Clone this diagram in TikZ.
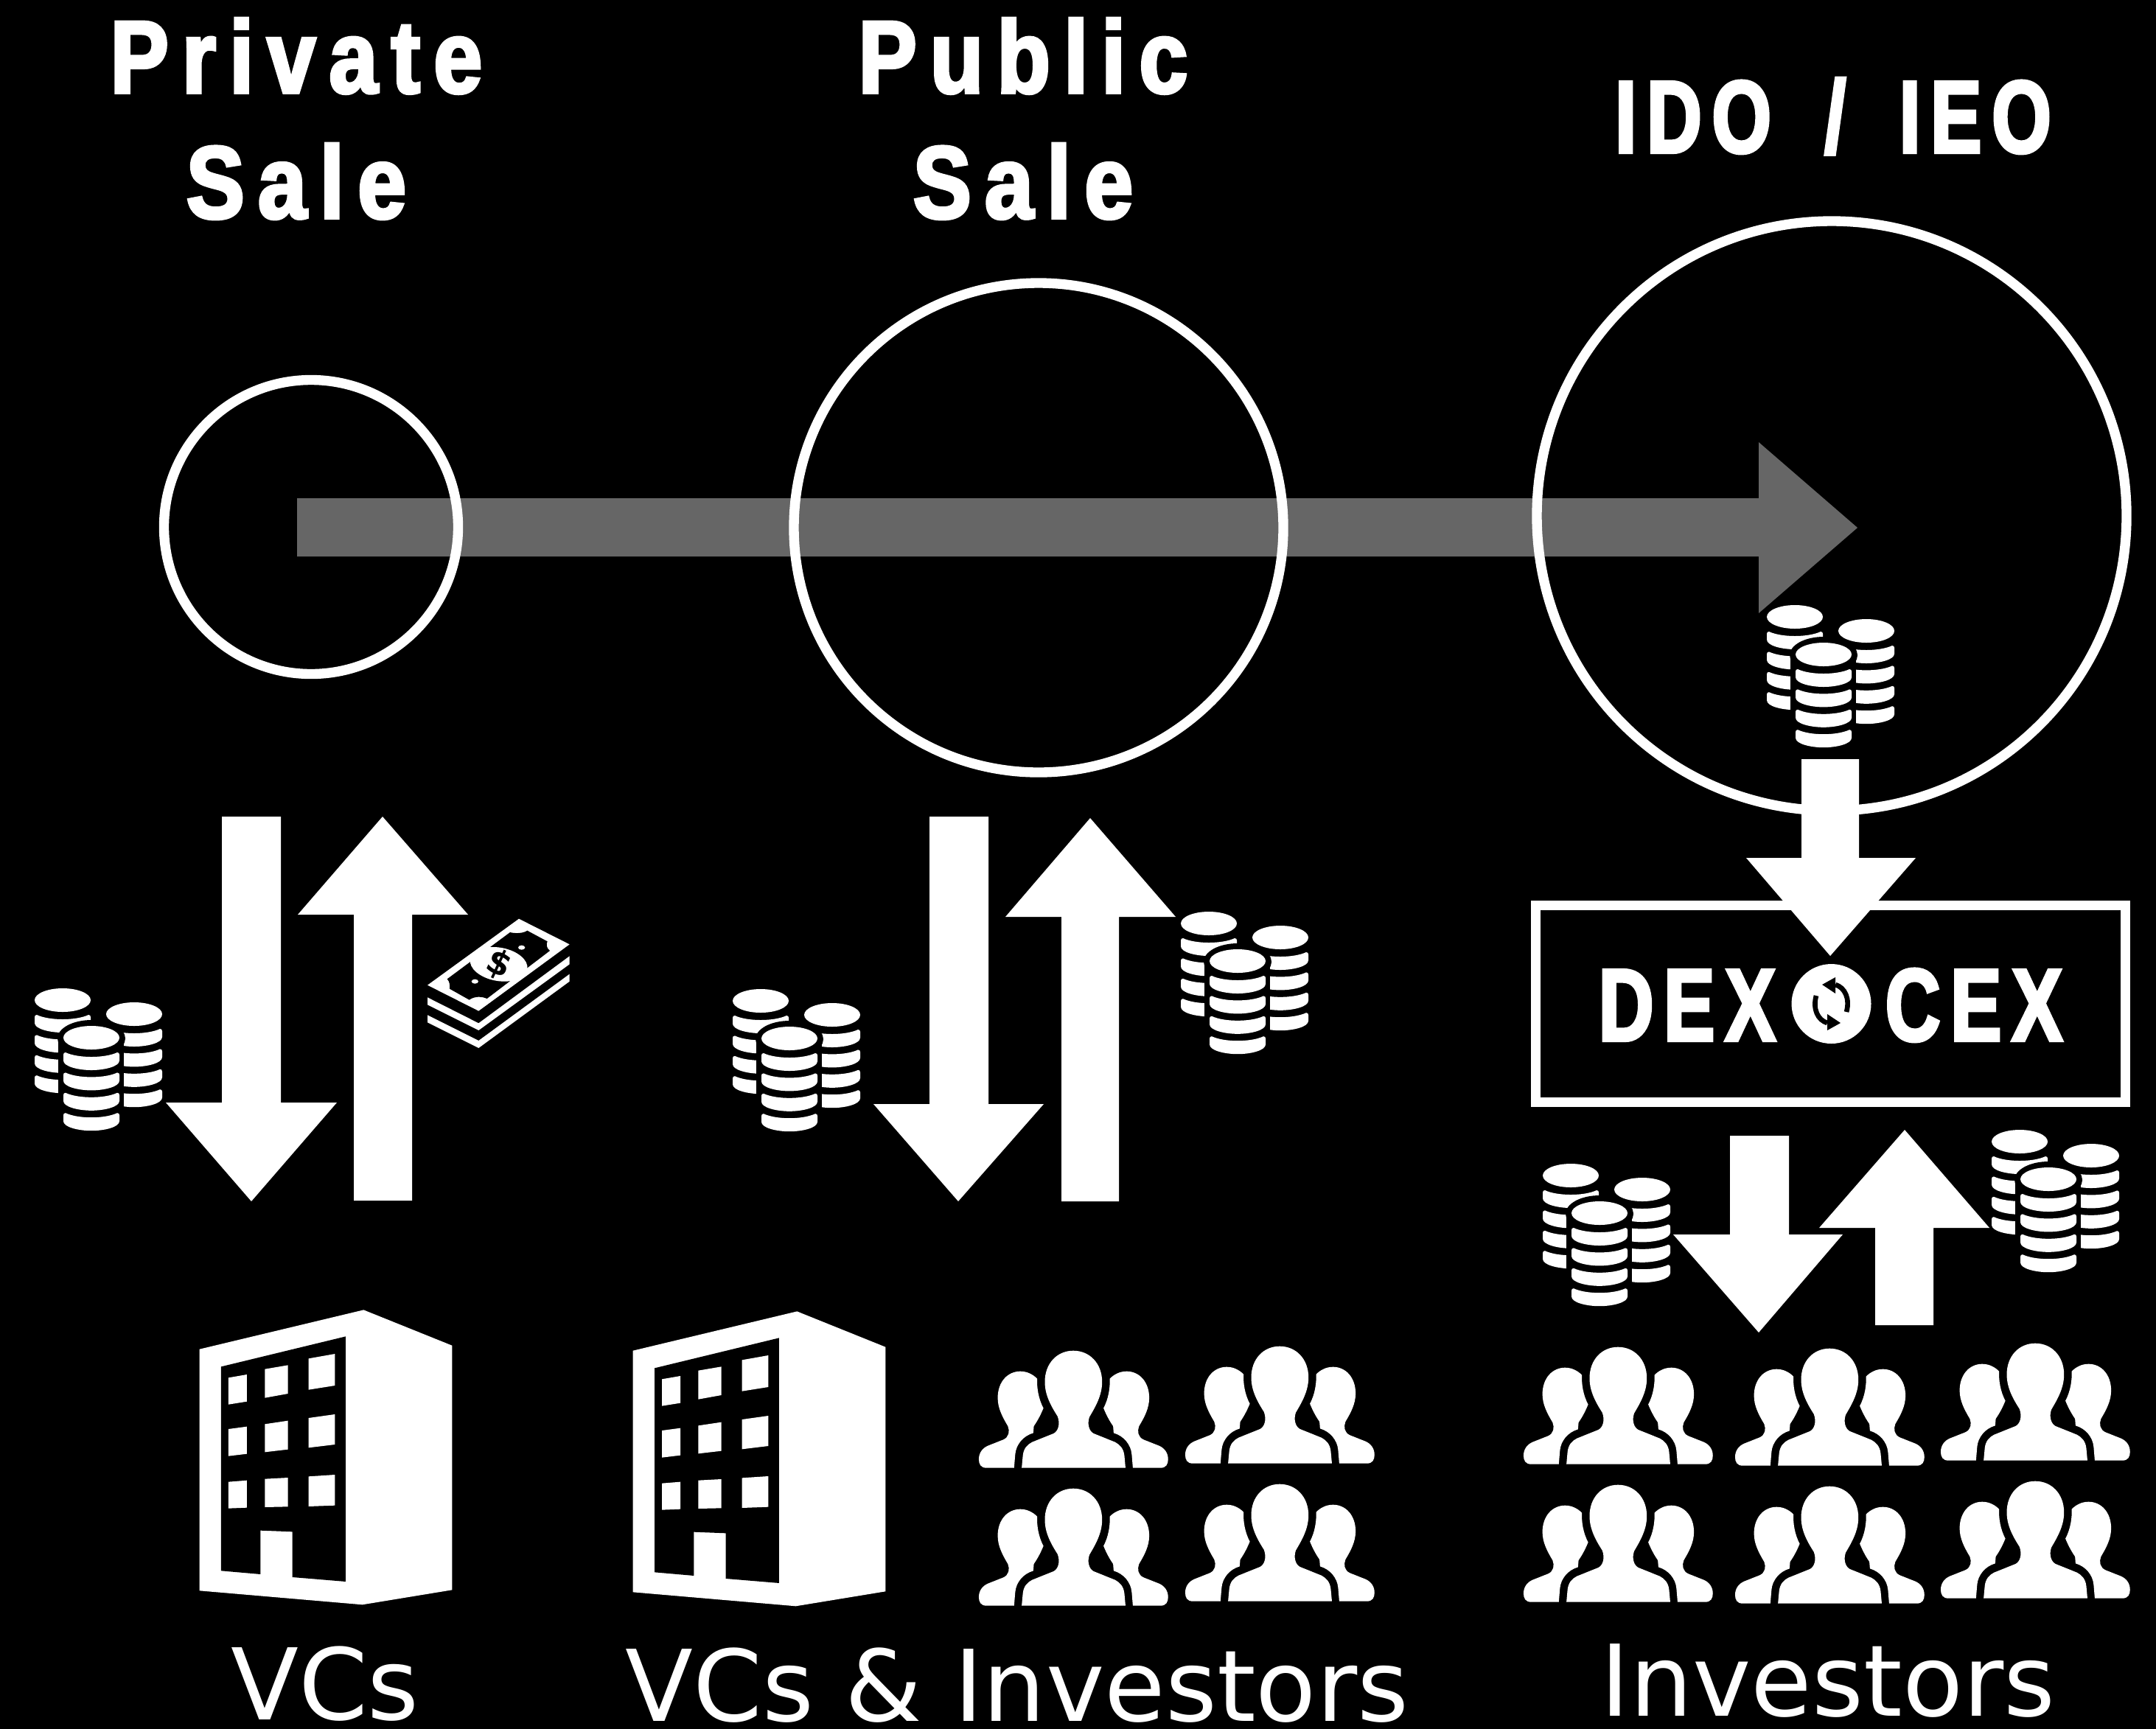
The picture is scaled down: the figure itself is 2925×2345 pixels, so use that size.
\documentclass[tikz,border=0pt]{standalone}
\usepackage{fontspec}
\setsansfont{DejaVu Sans}
\newfontfamily\titlefont[FakeStretch=0.85,LetterSpace=13,FakeBold=3]{Liberation Sans}
\newfontfamily\capsfont[FakeStretch=0.74,LetterSpace=10,FakeBold=3]{Liberation Sans}
\usepackage{tikz}

\definecolor{flowgray}{HTML}{666666}

\newcommand{\sideperson}{
    \fill[white] (198,575) -- (100,575) .. controls (80,575) and (73,560) .. (73,540) .. controls (73,515) and (85,495) .. (105,485)
      -- (160,460) .. controls (180,450) and (183,425) .. (176,405) .. controls (155,365) and (140,330) .. (140,290)
      .. controls (140,225) and (175,182) .. (220,182) .. controls (245,182) and (265,195) .. (280,212)
      .. controls (278,250) and (285,295) .. (302,332) .. controls (290,365) and (280,385) .. (268,405) -- (266,433)
      .. controls (230,445) and (205,480) .. (202,520) -- cycle;
}

\tikzset{
  salelabel/.style={white,inner sep=0pt,align=center,font=\titlefont\bfseries\fontsize{39.7}{48.4}\selectfont},
  capslabel/.style={white,inner sep=0pt,anchor=base,font=\capsfont\bfseries\fontsize{39.7}{48.4}\selectfont},
  investorlabel/.style={white,inner sep=0pt,anchor=base,font=\sffamily\fontsize{38.2}{45}\selectfont},
  ring/.style={draw=white,line width=3.8pt},
  blockarrow/.style={fill=white},
  coinslice/.pic={
    \fill[white] (0,3) .. controls (0,1) and (1,0) .. (3,0) .. controls (20,8) and (56,8) .. (73,0)
      .. controls (75,0) and (76,1) .. (76,3) -- (76,11) .. controls (76,19) and (56,24) .. (38,24)
      .. controls (20,24) and (0,19) .. (0,11) -- cycle;
  },
  coincolumn/.pic={
    \fill[white] (38,16) ellipse [x radius=38,y radius=16];
    \foreach \i in {0,...,3}
      \pic at (0,36+27.4*\i) {coinslice};
  },
  coins/.pic={
    \pic at (0,0) {coincolumn};
    \pic at (97,19) {coincolumn};
    \fill[black] (77,68) ellipse [x radius=46,y radius=25];
    \fill[black] (31.5,68) rectangle (121,200);
    \pic at (39,51) {coincolumn};
  },
  building/.pic={
    \fill[white] (152,272) -- (820,112) -- (1180,257) -- (1180,1252) -- (815,1312) -- (152,1255) -- cycle;
    \fill[black] (240,343) -- (747,220) -- (747,1218) -- (530,1200) -- (530,1015) -- (400,1010) -- (400,1188) -- (240,1174) -- cycle;
    \fill[white] (270,388) -- (345,375) -- (345,485) -- (270,497) -- cycle;
    \fill[white] (418,353) -- (512,337) -- (512,453) -- (418,470) -- cycle;
    \fill[white] (596,310) -- (703,291) -- (703,420) -- (596,437) -- cycle;
    \fill[white] (270,597) -- (345,587) -- (345,698) -- (270,707) -- cycle;
    \fill[white] (418,577) -- (512,563) -- (512,680) -- (418,691) -- cycle;
    \fill[white] (596,552) -- (703,537) -- (703,660) -- (596,673) -- cycle;
    \fill[white] (270,812) -- (345,806) -- (345,917) -- (270,920) -- cycle;
    \fill[white] (418,800) -- (512,795) -- (512,913) -- (418,915) -- cycle;
    \fill[white] (596,790) -- (703,783) -- (703,908) -- (596,912) -- cycle;
  },
  people/.pic={
    \fill[white] (225,575) -- (229,525) .. controls (232,495) and (245,480) .. (262,470) -- (338,435)
      .. controls (355,425) and (362,395) .. (352,365) .. controls (330,325) and (307,280) .. (307,225)
      .. controls (307,150) and (350,98) .. (408,98) .. controls (466,98) and (510,150) .. (510,225)
      .. controls (510,280) and (487,325) .. (465,368) .. controls (457,395) and (463,425) .. (480,435)
      -- (556,470) .. controls (572,480) and (586,495) .. (589,525) -- (593,575) -- cycle;
    \sideperson
    \begin{scope}[shift={(817,0)},xscale=-1]
      \sideperson
    \end{scope}
  },
  money/.pic={
    \fill[white] (402,20) -- (608,124) -- (238,395) -- (30,290) -- cycle;
    \fill[white] (30,340) -- (238,445) -- (608,172) -- (608,205) -- (238,474) -- (30,370) -- cycle;
    \fill[white] (30,412) -- (238,516) -- (608,245) -- (608,275) -- (238,546) -- (30,442) -- cycle;
    \fill[black] (366,75) .. controls (385,80) and (420,80) .. (436,68) -- (518,112) .. controls (512,125) and (515,140) .. (528,150)
      -- (272,345) .. controls (250,335) and (220,335) .. (200,350) -- (120,305) .. controls (122,292) and (120,275) .. (110,265) -- cycle;
    \fill[white] (320,205) ellipse [x radius=118,y radius=68,rotate=-10];
    \fill[white] (413,137) ellipse [x radius=14,y radius=9];
    \fill[white] (223,275) ellipse [x radius=14,y radius=9];
    \node[black,rotate=-25,inner sep=0pt,font=\sffamily\bfseries\fontsize{13}{13}\selectfont] (dollar) at (320,207) {\$};
  },
  reload/.pic={
    \draw[black,line width=1.9pt] (20.5,11) .. controls (25.5,-7) and (18.5,-22) .. (5.5,-26);
    \fill[black] (-12.5,-26) -- (5.5,-36) -- (5.5,-14) -- cycle;
  }
}

\begin{document}
\begin{tikzpicture}[x=.01cm,y=-.01cm]
    \useasboundingbox (0,0) rectangle (2925,2345);
    \fill[black] (-20,-20) rectangle (2945,2365);

    % flow from sale to sale
    \fill[flowgray] (403,676) -- (2386,676) -- (2386,600) -- (2520,716) -- (2386,832) -- (2386,755) -- (403,755) -- cycle;
    \draw[ring] (422,715) circle [radius=199.5];
    \draw[ring] (1409,716) circle [radius=332];
    \draw[ring] (2485,700) circle [radius=400];

    \node[salelabel] (private) at (402,161) {Private\\Sale};
    \node[salelabel] (public) at (1388,161) {Public\\Sale};
    \node[capslabel] (ido) at (2487,207) {IDO\hspace{8.5pt} /\hspace{8.5pt} IEO};

    % private sale
    \fill[blockarrow] (301,1108) -- (381,1108) -- (381,1496) -- (457,1496) -- (341,1630) -- (225,1496) -- (301,1496) -- cycle;
    \fill[blockarrow] (480,1629) -- (559,1629) -- (559,1241) -- (635,1241) -- (519,1108) -- (404,1241) -- (480,1241) -- cycle;
    \pic at (47,1341) {coins};
    \pic[scale=.3333] at (570,1240) {money};

    % public sale
    \fill[blockarrow] (1261,1108) -- (1341,1108) -- (1341,1498) -- (1416,1498) -- (1300,1630) -- (1185,1498) -- (1261,1498) -- cycle;
    \fill[blockarrow] (1440,1630) -- (1518,1630) -- (1518,1244) -- (1595,1244) -- (1479,1110) -- (1364,1244) -- (1440,1244) -- cycle;
    \pic at (994,1342) {coins};
    \pic at (1602,1237) {coins};

    % ido and exchange
    \pic at (2397,821) {coins};
    \draw[draw=white,line width=3.7pt] (2083.5,1228.5) rectangle (2883.5,1495);
    \fill[blockarrow] (2444,1030) -- (2522,1030) -- (2522,1164) -- (2599,1164) -- (2483,1297) -- (2369,1164) -- (2444,1164) -- cycle;
    \node[capslabel] (dex) at (2289,1412) {DEX};
    \node[capslabel] (cex) at (2678,1412) {CEX};
    \fill[white] (2484.5,1362) circle [radius=54];
    \pic at (2484.5,1362) {reload};
    \pic[rotate=180] at (2484.5,1362) {reload};

    \fill[blockarrow] (2347,1541) -- (2427,1541) -- (2427,1675) -- (2500,1675) -- (2386,1808) -- (2270,1675) -- (2347,1675) -- cycle;
    \fill[blockarrow] (2544,1798) -- (2623,1798) -- (2623,1666) -- (2699,1666) -- (2584,1533) -- (2468,1666) -- (2544,1666) -- cycle;
    \pic at (2093,1579) {coins};
    \pic at (2702,1533) {coins};

    % who takes part
    \pic[scale=.3333] at (220,1740) {building};
    \pic[scale=.3333] at (808,1742) {building};
    \foreach \x/\y in {1300/1800,1580/1794,1300/1987,1580/1981,2039/1795,2326/1797,2605/1790,2039/1982,2326/1984,2605/1977}
      \pic[xscale=.3827,yscale=.3333] at (\x,\y) {people};

    \node[investorlabel] (vcs) at (441,2333) {VCs};
    \node[investorlabel] (both) at (1380,2335) {VCs \& Investors};
    \node[investorlabel] (investors) at (2480,2328) {Investors};
\end{tikzpicture}
\end{document}
